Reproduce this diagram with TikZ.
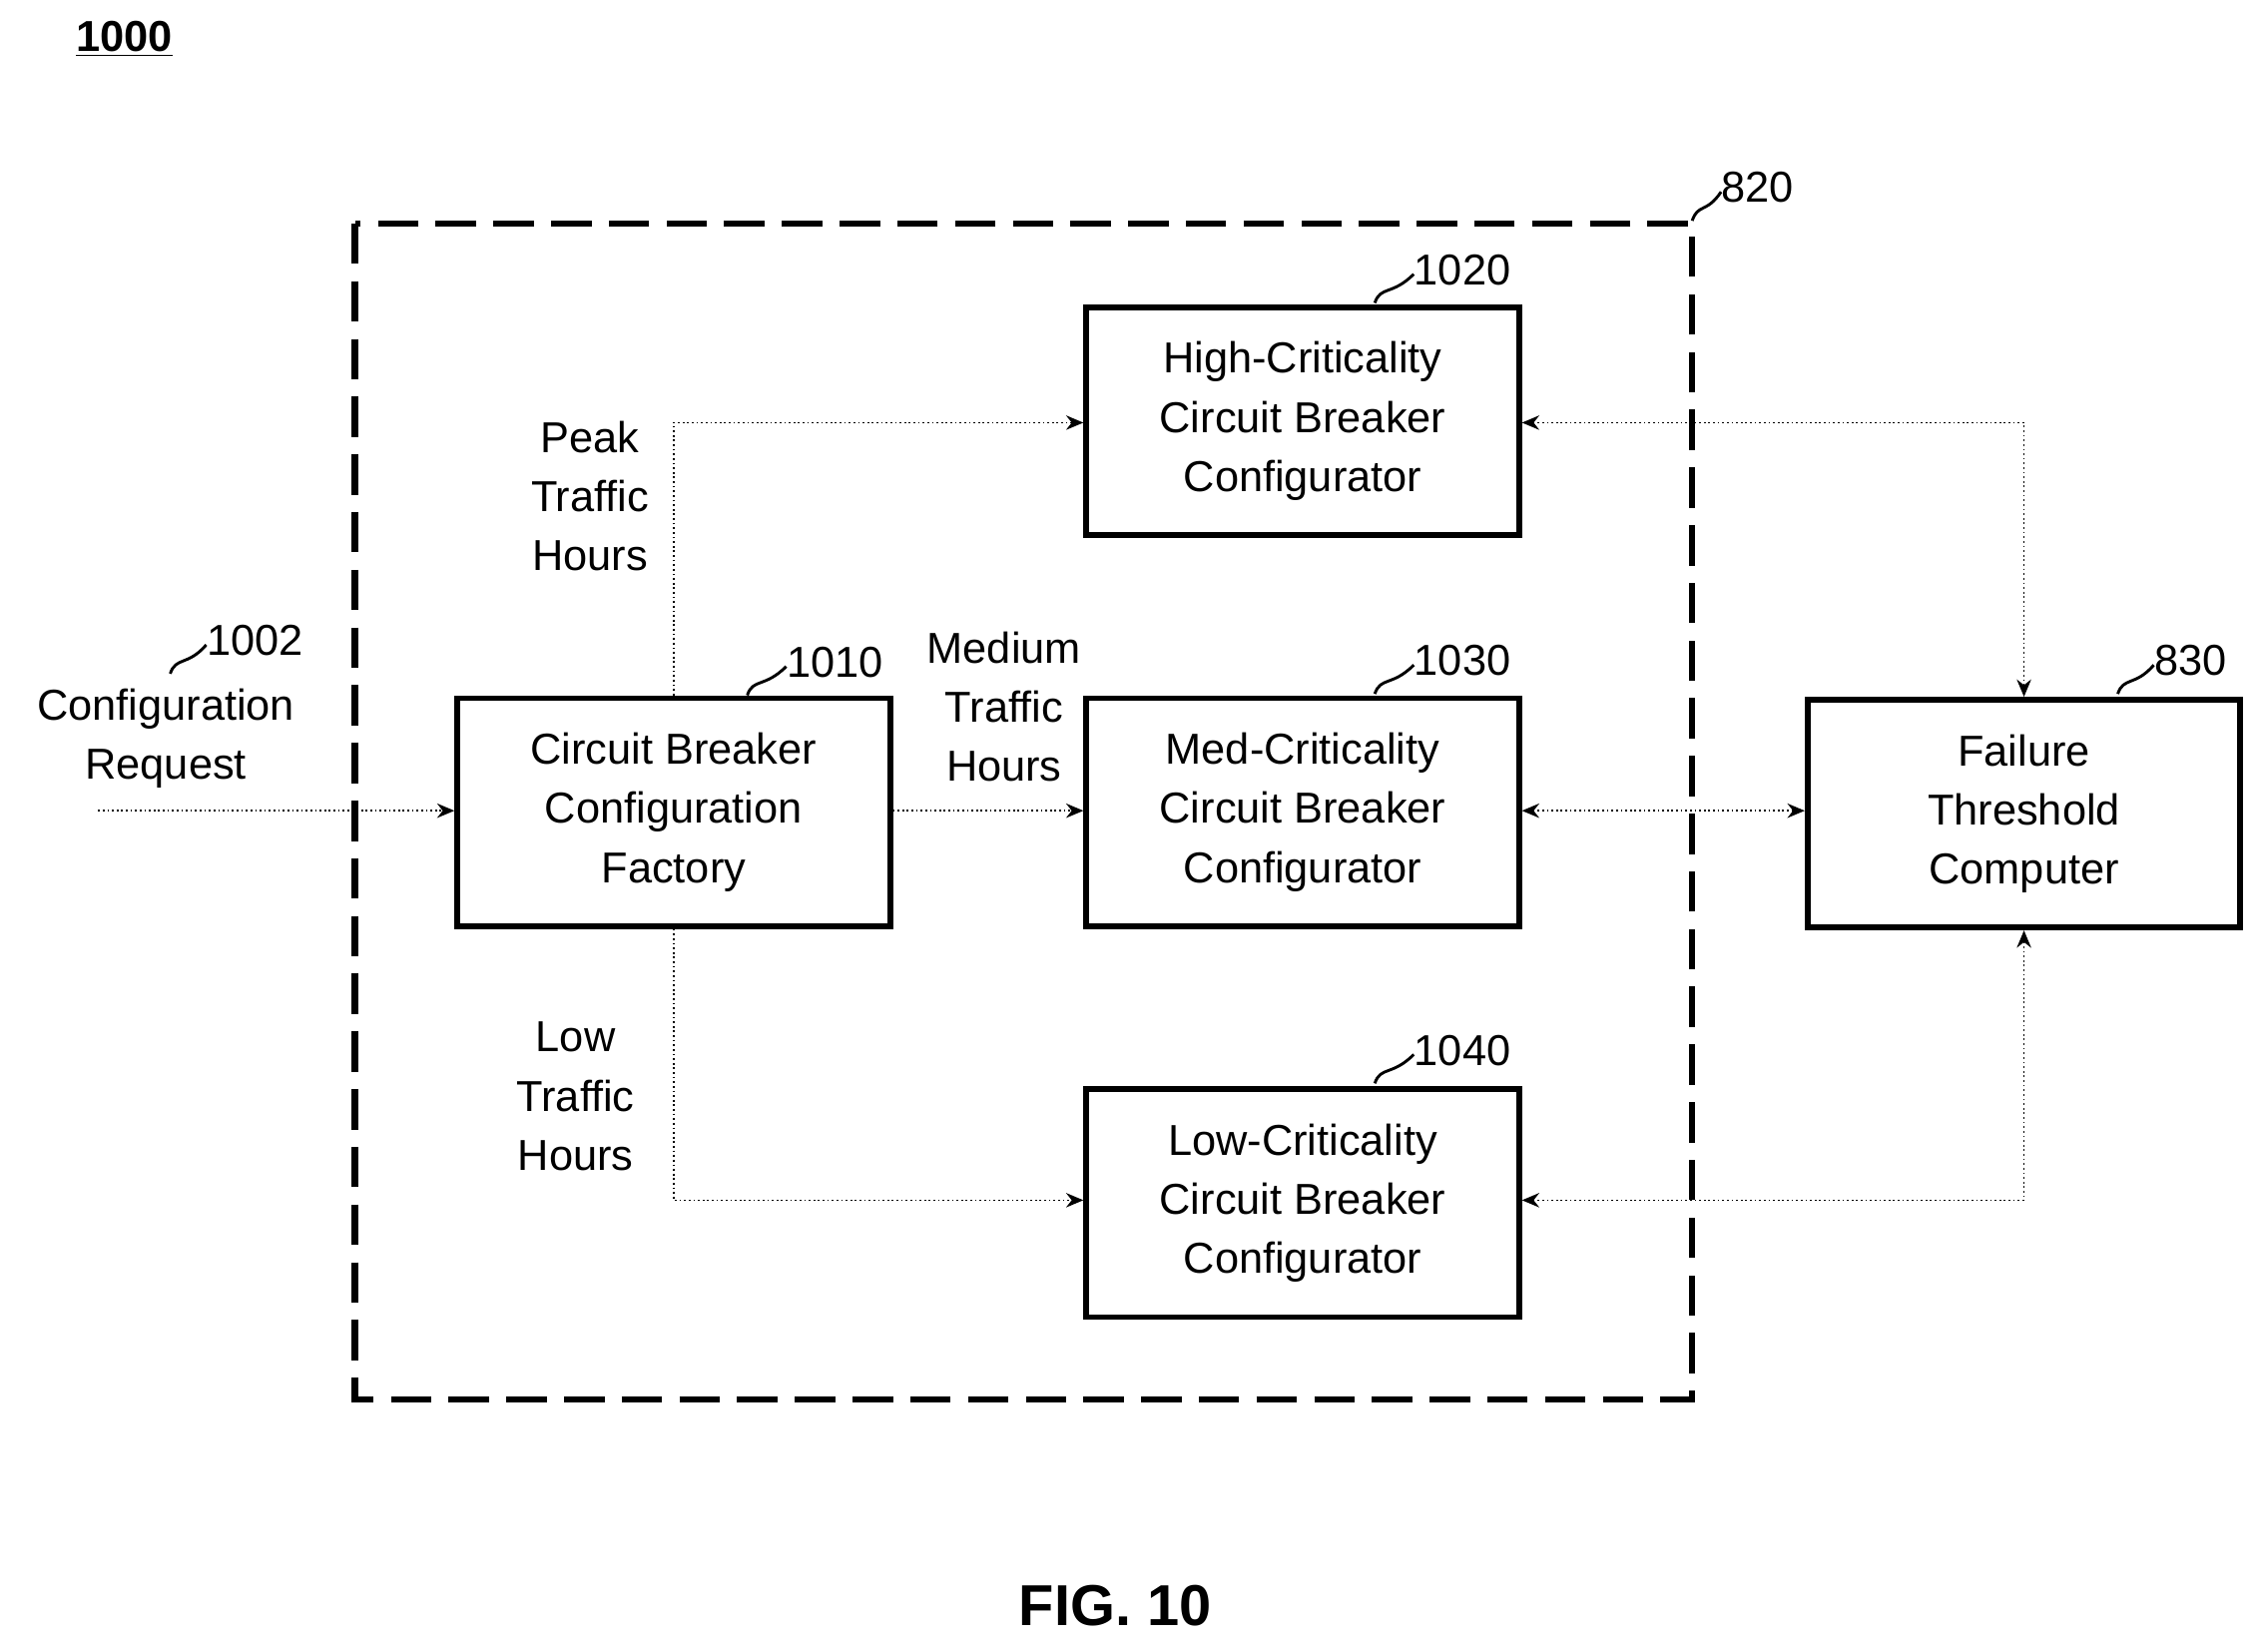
\documentclass[tikz,border=0pt]{standalone}
\usepackage{fontspec}
\setmainfont{Liberation Sans}
\usetikzlibrary{arrows.meta}
\begin{document}
\begin{tikzpicture}[x=0.5pt,y=-0.5pt,
  blk/.style={draw,line width=2pt,minimum width=150pt,minimum height=79pt,align=center,font=\fontsize{15}{20.5}\selectfont,inner sep=0pt},
  con/.style={densely dotted,line width=0.6pt},
  arr/.style={con,-{Stealth[length=6pt,width=5pt]}},
  barr/.style={con,{Stealth[length=6pt,width=5pt]}-{Stealth[length=6pt,width=5pt]}},
  lbl/.style={font=\fontsize{15}{20.5}\selectfont,align=center,inner sep=0pt},
  sq/.style={line width=1pt}]
\useasboundingbox (0,0) rectangle (1568,1145);
\node[font=\bfseries\fontsize{15}{18}\selectfont] (t1000) at (86,27) {\underline{1000}};
\node[font=\bfseries\fontsize{20}{24}\selectfont] (fig) at (773,1113) {FIG. 10};
\draw[dashed,line width=2.2pt,dash pattern=on 14pt off 6pt] (246,155) rectangle (1173,970);
\node[blk] (f) at (467,563) {Circuit Breaker\\Configuration\\Factory};
\node[blk] (h) at (903,292) {High-Criticality\\Circuit Breaker\\Configurator};
\node[blk] (m) at (903,563) {Med-Criticality\\Circuit Breaker\\Configurator};
\node[blk] (l) at (903,834) {Low-Criticality\\Circuit Breaker\\Configurator};
\node[blk] (c) at (1403,564) {Failure\\Threshold\\Computer};
\coordinate (in) at (68,562);
\node[lbl] (req) at (115,512) {Configuration\\Request};
\draw[arr] (in) -- (f.west|-in);
\coordinate (pk) at (467,293);
\coordinate (lw) at (467,832);
\draw[arr] (f.north-|pk) -- (pk) -- (h.west|-pk);
\draw[arr] (f.south-|lw) -- (lw) -- (l.west|-lw);
\draw[arr] (f.east|-in) -- (m.west|-in);
\coordinate (cr) at (1403,293);
\coordinate (crl) at (1403,832);
\draw[barr] (h.east|-cr) -- (cr) -- (c.north);
\draw[barr] (m.east|-in) -- (c.west|-in);
\draw[barr] (l.east|-crl) -- (crl) -- (c.south);
\node[lbl] (pkl) at (409,344) {Peak\\Traffic\\Hours};
\node[lbl] (mdl) at (696,490) {Medium\\Traffic\\Hours};
\node[lbl] (lwl) at (399,760) {Low\\Traffic\\Hours};
% reference numerals with squiggles
\node[lbl,anchor=west] (n1002) at (143,444) {1002};
\draw[sq] (118,467) .. controls (122,455) and (130,462) .. (143,447);
\node[lbl,anchor=west] (n1010) at (545,459) {1010};
\draw[sq] (518,482) .. controls (522,470) and (530,477) .. (545,462);
\node[lbl,anchor=west] (n1020) at (980,187) {1020};
\draw[sq] (953,210) .. controls (957,198) and (965,205) .. (980,190);
\node[lbl,anchor=west] (n1030) at (980,458) {1030};
\draw[sq] (953,481) .. controls (957,469) and (965,476) .. (980,461);
\node[lbl,anchor=west] (n1040) at (980,728) {1040};
\draw[sq] (953,751) .. controls (957,739) and (965,746) .. (980,731);
\node[lbl,anchor=west] (n830) at (1493,458) {830};
\draw[sq] (1468,481) .. controls (1472,469) and (1480,476) .. (1493,461);
\node[lbl,anchor=west] (n820) at (1193,130) {820};
\draw[sq] (1173,153) .. controls (1177,141) and (1183,148) .. (1193,133);
\end{tikzpicture}
\end{document}
